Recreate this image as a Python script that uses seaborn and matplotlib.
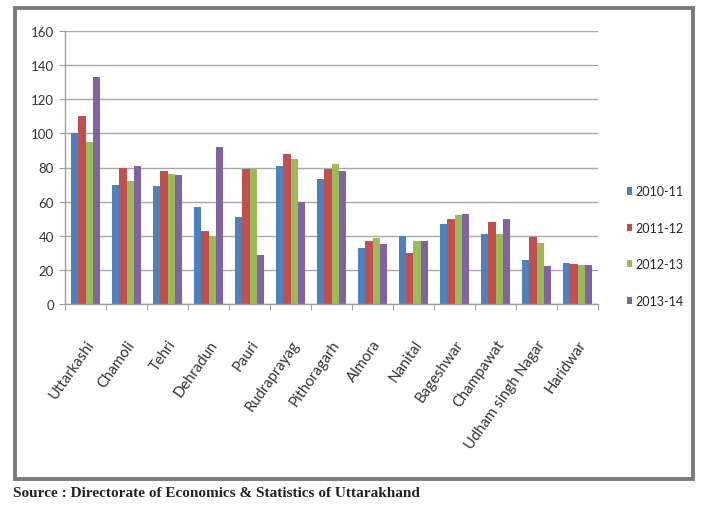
import matplotlib
matplotlib.use("Agg")
import matplotlib.pyplot as plt
from matplotlib.patches import Rectangle
import pandas as pd
import seaborn as sns

districts = ["Uttarkashi", "Chamoli", "Tehri", "Dehradun", "Pauri", "Rudraprayag",
             "Pithoragarh", "Almora", "Nanital", "Bageshwar", "Champawat",
             "Udham singh Nagar", "Haridwar"]
years = ["2010-11", "2011-12", "2012-13", "2013-14"]
v_2010_11 = [100, 70, 69, 57, 51, 81, 73, 33, 40, 47, 41, 26, 24]
v_2011_12 = [110, 80, 78, 43, 79, 88, 79, 37, 30, 50, 48, 39, 23.5]
v_2012_13 = [95, 72, 76, 40, 79, 85, 82, 38.5, 37, 52, 41, 36, 23]
v_2013_14 = [133, 81, 75.5, 92, 29, 60, 78, 35, 37, 53, 50, 22, 23]
yticks = [0, 20, 40, 60, 80, 100, 120, 140, 160]
source_text = "Source : Directorate of Economics & Statistics of Uttarakhand"

series = [v_2010_11, v_2011_12, v_2012_13, v_2013_14]
df = pd.DataFrame({
    "District": districts * len(years),
    "Year": [y for y in years for _ in districts],
    "Value": [v for s in series for v in s],
})

colors = ["#4F81BD", "#C0504D", "#9BBB59", "#8064A2"]

sns.set_theme(style="white")
plt.rcParams["font.family"] = ["Lato", "DejaVu Sans"]

fig = plt.figure(figsize=(7.02, 5.06), dpi=100)
W, H = 702, 506
ax = fig.add_axes([65 / W, 1 - 305 / H, (598 - 65) / W, (305 - 32) / H])

sns.barplot(data=df, x="District", y="Value", hue="Year", hue_order=years,
            palette=colors, width=0.71, gap=0, saturation=1, ax=ax,
            legend=True, edgecolor="none")

ax.set_ylim(0, 160)
ax.set_xlim(-0.5, len(districts) - 0.5)
ax.set_yticks(yticks)
ax.set_yticklabels([str(t) for t in yticks], fontsize=9.5, color="#333333")
ax.yaxis.grid(True, color="#a8a8a8", linewidth=1.0)
ax.set_axisbelow(True)
ax.set_xlabel("")
ax.set_ylabel("")

# category labels at centres, tick marks between categories
ax.set_xticks(range(len(districts)))
ax.set_xticklabels(districts, rotation=55, ha="right", rotation_mode="anchor",
                   fontsize=10.7, color="#333333")
ax.tick_params(axis="x", length=0, pad=24)
ax.set_xticks([i - 0.5 for i in range(len(districts) + 1)], minor=True)
ax.tick_params(axis="x", which="minor", length=4, color="#a0a0a0", width=0.8, bottom=True)
ax.tick_params(axis="y", length=4, color="#a0a0a0", width=0.8, left=True, pad=4)

for side in ["top", "right"]:
    ax.spines[side].set_visible(False)
for side in ["left", "bottom"]:
    ax.spines[side].set_color("#a0a0a0")
    ax.spines[side].set_linewidth(1.0)

handles, labels = ax.get_legend_handles_labels()
ax.legend(handles, labels, loc="center left",
          bbox_to_anchor=(616 / W, 1 - 247 / H), bbox_transform=fig.transFigure,
          frameon=False, fontsize=9, handlelength=0.4, handleheight=0.5,
          handletextpad=0.25, labelspacing=1.95)

# outer chart border
fig.patches.append(Rectangle((15 / W, 1 - 480 / H), (693 - 15) / W, (480 - 9) / H,
                             transform=fig.transFigure, fill=False,
                             edgecolor="#7a7a7a", linewidth=2.8))

fig.text(13 / W, 1 - 494 / H, source_text, fontsize=11, fontweight="bold",
         family=["Liberation Serif", "DejaVu Serif"], color="#222222",
         va="center", ha="left")

fig.savefig("out.png", dpi=100, facecolor="white")
